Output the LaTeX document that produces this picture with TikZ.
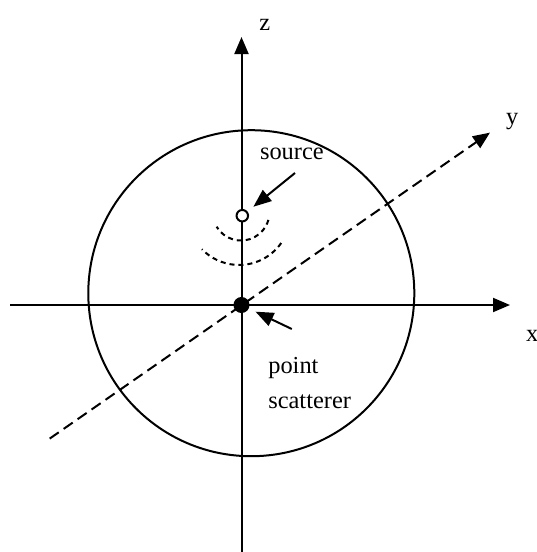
\documentclass[tikz,border=0pt]{standalone}
\usepackage{fontspec}
\setmainfont{Liberation Serif}
\usetikzlibrary{arrows.meta}
\newcommand{\lblfont}{\fontsize{13.9}{19.9}\selectfont}

\begin{document}
\begin{tikzpicture}[x=0.02cm, y=-0.02cm, line width=0.04cm,
  axis/.style={-{Triangle[length=0.34cm, width=0.28cm]}},
  ptr/.style={-{Triangle[length=0.36cm, width=0.28cm]}, shorten >=0.15cm},
  wave/.style={dash pattern=on 0.1cm off 0.08cm},
  lbl/.style={inner sep=0pt, anchor=base west, font=\lblfont, align=left}]
  \useasboundingbox (0,0) rectangle (537,552);

  % axes
  \coordinate (O) at (241.5,305);
  \coordinate (xtail) at (10,305);
  \coordinate (xtip) at (510,305);
  \coordinate (ztail) at (241.5,560);
  \coordinate (ztip) at (241.5,37);
  \coordinate (ytail) at (49.7,438.6);
  \coordinate (ytip) at (490,132.6);
  \draw[axis] (xtail) -- (xtip);
  \draw[axis] (ztail) -- (ztip);
  \draw[axis, dash pattern=on 0.22cm off 0.12cm] (ytail) -- (ytip);

  \node[lbl] (xlabel) at (525,341) {x};
  \node[lbl] (ylabel) at (505,124.5) {y};
  \node[lbl] (zlabel) at (258.3,30) {z};

  % sphere
  \draw (251.3,293.2) circle[radius=163];

  % wavefronts
  \draw[wave] (268.4,219.9) arc[start angle=16, end angle=149, radius=28.5];
  \draw[wave] (281.2,243.0) arc[start angle=35, end angle=136, radius=51.5];

  \node[draw, circle, fill=white, inner sep=0pt, minimum size=0.23cm] (src) at (242.3,215.7) {};
  \node[draw, circle, fill=black, inner sep=0pt, minimum size=0.28cm] (scat) at (O) {};

  \node[lbl] (srclabel) at (259,159) {source};
  \node[lbl] (scatlabel) at (267.3,408.3) {point\\scatterer};

  \coordinate (srctail) at (295,173);
  \coordinate (scattail) at (291.8,329);
  \draw[ptr] (srctail) -- (src);
  \draw[ptr] (scattail) -- (scat);
\end{tikzpicture}
\end{document}
